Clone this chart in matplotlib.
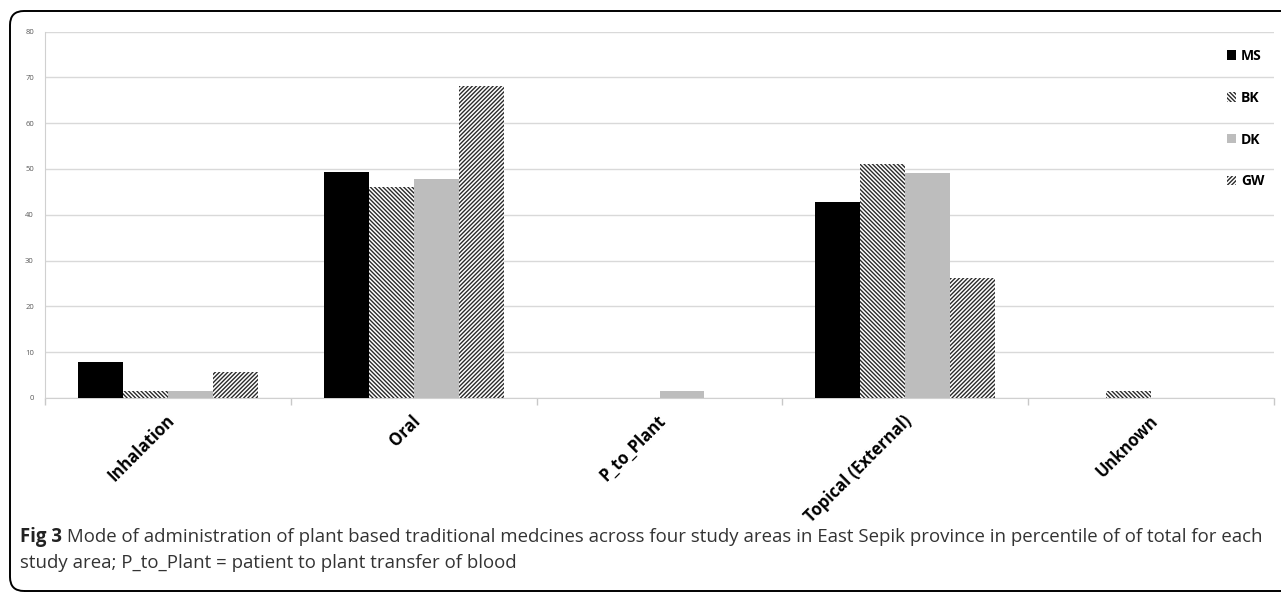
"""Mode of administration bar chart (Fig 3), grouped bars with hatches."""
import numpy as np
import matplotlib
matplotlib.use('Agg')
import matplotlib.pyplot as plt
from matplotlib.patches import FancyBboxPatch
from matplotlib.transforms import IdentityTransform

plt.rcParams['font.family'] = ['Open Sans', 'DejaVu Sans']
plt.rcParams['hatch.linewidth'] = 1.0

categories = ['Inhalation', 'Oral', 'P_to_Plant', 'Topical (External)', 'Unknown']
series_names = ['MS', 'BK', 'DK', 'GW']
ms = [7.8, 49.4, 0.0, 42.8, 0.0]
bk = [1.6, 46.0, 0.0, 51.0, 1.6]
dk = [1.6, 47.7, 1.6, 49.2, 0.0]
gw = [5.6, 68.2, 0.0, 26.2, 0.0]
yticks = [0, 10, 20, 30, 40, 50, 60, 70, 80]

styles = [
    dict(color='black', hatch=None, edgecolor='black'),
    dict(color='white', hatch='\\' * 8, edgecolor='#2a2a2a'),
    dict(color='#bdbdbd', hatch=None, edgecolor='#bdbdbd'),
    dict(color='white', hatch='/' * 8, edgecolor='#2a2a2a'),
]

W, H = 1281, 599
fig = plt.figure(figsize=(W / 100, H / 100), dpi=100)
ax = fig.add_axes([45 / W, 1 - 398 / H, (1274 - 45) / W, (398 - 31.5) / H])

x = np.arange(len(categories))
w = 0.183
for i, (name, vals) in enumerate(zip(series_names, [ms, bk, dk, gw])):
    st = styles[i]
    ax.bar(x + (i - 1.5) * w, vals, w, color=st['color'], hatch=st['hatch'],
           edgecolor=st['edgecolor'], linewidth=0, label=name, zorder=3)

ax.set_xlim(-0.5, len(categories) - 0.5)
ax.set_ylim(0, 80)
ax.set_yticks(yticks)
ax.tick_params(axis='y', length=0, labelsize=5.5, labelcolor='#595959', pad=8)
ax.grid(axis='y', color='#d9d9d9', linewidth=1, zorder=0)
ax.set_axisbelow(True)
for s in ['top', 'right']:
    ax.spines[s].set_visible(False)
ax.spines['left'].set_color('#d0d0d0')
ax.spines['bottom'].set_color('#d0d0d0')

ax.set_xticks(x)
ax.set_xticklabels([])
ax.tick_params(axis='x', which='major', length=0)
ax.set_xticks(np.arange(-0.5, len(categories)), minor=True)
ax.tick_params(axis='x', which='minor', length=5, color='#c8c8c8', width=1)

for xi, lab in zip(x, categories):
    ax.annotate(lab, xy=(xi, 0), xycoords=('data', 'axes fraction'),
                xytext=(4, -20), textcoords='offset pixels',
                rotation=45, rotation_mode='anchor', ha='right', va='center',
                fontsize=12, fontweight='bold', annotation_clip=False)

leg = fig.legend(loc='upper left', bbox_to_anchor=(1227 / W, 1 - 49 / H),
                 frameon=False, fontsize=10, handlelength=0.65, handleheight=0.65,
                 handletextpad=0.35, labelspacing=2.0, borderpad=0, borderaxespad=0)
for t in leg.get_texts():
    t.set_fontweight('bold')

# rounded frame around the whole figure
frame = FancyBboxPatch((10, H - 591), 1300, 580,
                       boxstyle='round,pad=0,rounding_size=14',
                       transform=IdentityTransform(), fill=False,
                       edgecolor='black', linewidth=1.4)
fig.add_artist(frame)

cap_size = 13.4
t1 = fig.text(20 / W, 1 - 537 / H, 'Fig 3', fontsize=cap_size, fontweight='bold',
              va='center', ha='left', color='#222222')
ax.annotate(' Mode of administration of plant based traditional medcines across four study '
            'areas in East Sepik province in percentile of of total for each',
            xy=(1, 0.5), xycoords=t1, va='center', ha='left', fontsize=cap_size,
            color='#333333', annotation_clip=False)
fig.text(20 / W, 1 - 563 / H, 'study area; P_to_Plant = patient to plant transfer of blood',
         fontsize=cap_size, va='center', ha='left', color='#333333')

fig.savefig('out.png', dpi=100)
